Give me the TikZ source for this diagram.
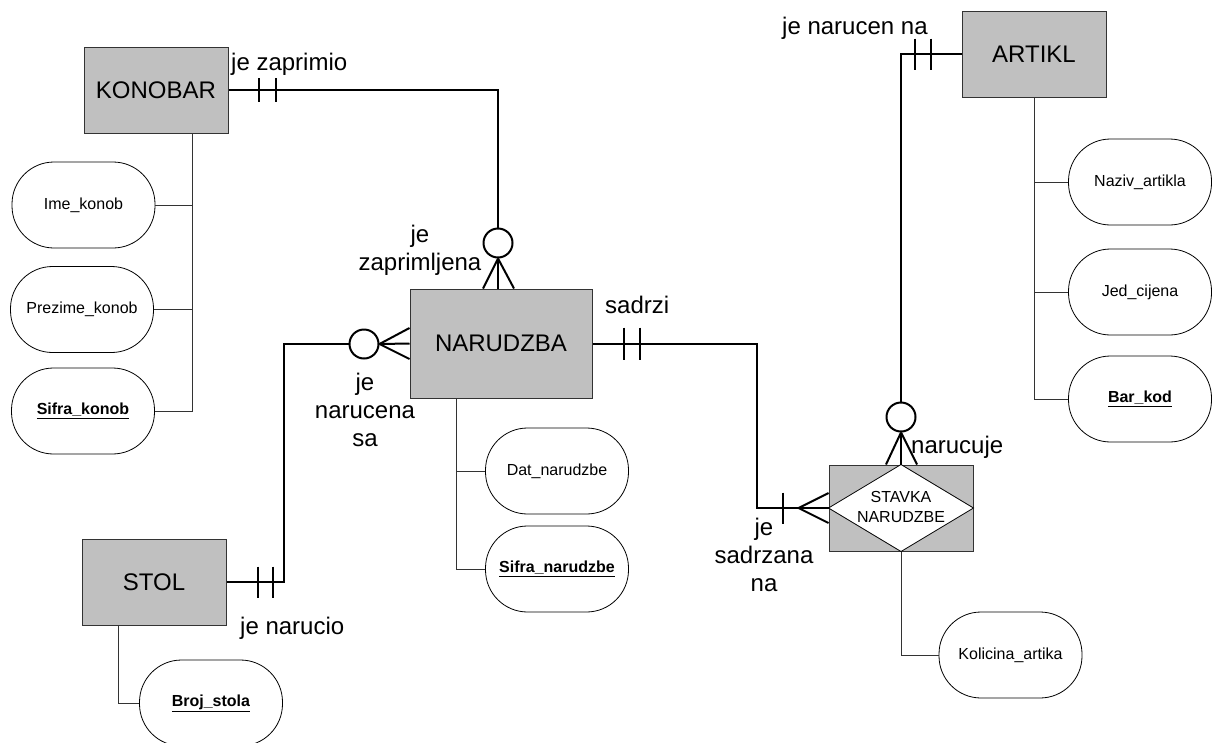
\documentclass[tikz,border=0pt]{standalone}
\usepackage{fontspec}
\setmainfont{Liberation Sans}
\definecolor{cgray}{HTML}{C0C0C0}
\definecolor{cdark}{HTML}{333333}
\tikzset{
  entity/.style={draw=cdark, line width=1pt, fill=cgray, minimum width=144pt, minimum height=86pt, inner sep=0pt, font=\fontsize{24}{28}\selectfont},
  attrib/.style={draw, line width=0.8pt, rounded corners=42pt, fill=white, minimum width=143pt, minimum height=86pt, inner sep=0pt, font=\fontsize{16}{20}\selectfont},
  rel/.style={line width=2pt},
  attline/.style={cdark, line width=1pt},
  optc/.style={circle, draw, line width=2pt, fill=white, minimum size=29pt, inner sep=0pt},
  lbl/.style={inner sep=0pt, align=center, font=\fontsize{24}{28}\selectfont},
}

\begin{document}
\begin{tikzpicture}[x=1pt, y=-1pt]
\useasboundingbox (0,0) rectangle (1212,742);

% entities
\node[entity] (konobar) at (156,90) {KONOBAR};
\node[entity, minimum width=182pt, minimum height=109pt] (narudzba) at (501,343.5) {NARUDZBA};
\node[entity] (stol) at (154,582) {STOL};
\node[entity] (artikl) at (1034,54) {ARTIKL};
\node[entity] (stavka) at (901,508) {};
\draw[line width=0.8pt, fill=white] (stavka.west) -- (stavka.north) -- (stavka.east) -- (stavka.south) -- cycle;
\node[align=center, inner sep=0pt, font=\fontsize{16}{20}\selectfont] (stavkatxt) at (901,507) {STAVKA\\NARUDZBE};

% attributes
\node[attrib] (ime) at (83.5,205) {Ime\_konob};
\node[attrib] (prezime) at (82,309.5) {Prezime\_konob};
\node[attrib] (sifrak) at (83,411) {\underline{\textbf{Sifra\_konob}}};
\node[attrib] (dat) at (557,471) {Dat\_narudzbe};
\node[attrib] (sifran) at (557,569) {\underline{\textbf{Sifra\_narudzbe}}};
\node[attrib] (broj) at (211,703) {\underline{\textbf{Broj\_stola}}};
\node[attrib] (kolicina) at (1010.5,655) {Kolicina\_artika};
\node[attrib] (naziv) at (1140,182) {Naziv\_artikla};
\node[attrib] (jed) at (1140,292) {Jed\_cijena};
\node[attrib] (barkod) at (1140,399) {\underline{\textbf{Bar\_kod}}};

% attribute lines
\coordinate (kb) at ([xshift=36pt]konobar.south);
\draw[attline] (kb) |- (sifrak.east);
\draw[attline] (ime.east) -- (ime.east -| kb);
\draw[attline] (prezime.east) -- (prezime.east -| kb);
\coordinate (nb) at ([xshift=-45pt]narudzba.south);
\draw[attline] (nb) |- (sifran.west);
\draw[attline] (dat.west) -- (dat.west -| nb);
\coordinate (sb) at ([xshift=-36pt]stol.south);
\draw[attline] (sb) |- (broj.west);
\draw[attline] (stavka.south) |- (kolicina.west);
\draw[attline] (artikl.south) |- (barkod.west);
\draw[attline] (naziv.west) -- (naziv.west -| artikl.south);
\draw[attline] (jed.west) -- (jed.west -| artikl.south);

% optional circles
\node[optc] (c1) at (498,243) {};
\node[optc] (c2) at (364,344) {};
\node[optc] (c3) at (901,417) {};
\coordinate (sft) at ([xshift=-30pt]stavka.west);

% konobar - narudzba
\draw[rel] (konobar.east) -| (c1.north);
\foreach \t in {30,47} \draw[rel] ([shift={(\t,-12)}]konobar.east) -- ++(0,24);
\foreach \d in {-15,0,16} \draw[rel] (c1.south) -- ([xshift=\d pt]c1.south |- narudzba.north);

% stol - narudzba
\draw[rel] (c2.west) -- ++(-65,0) |- (stol.east);
\foreach \t in {31,46} \draw[rel] ([shift={(\t,-15.5)}]stol.east) -- ++(0,31);
\foreach \d in {-15.5,0,15.5} \draw[rel] (c2.east) -- ([yshift=\d pt]narudzba.west);

% narudzba - stavka
\draw[rel] (narudzba.east) -- ++(164,0) |- (sft);
\foreach \t in {31,47} \draw[rel] ([shift={(\t,-16)}]narudzba.east) -- ++(0,32);
\draw[rel] ([shift={(-46,-15.5)}]stavka.west) -- ++(0,31);
\foreach \d in {-15,0,15} \draw[rel] (sft) -- ([yshift=\d pt]stavka.west);

% artikl - stavka
\draw[rel] (artikl.west) -| (c3.north);
\foreach \t in {-47,-31} \draw[rel] ([shift={(\t,-15.5)}]artikl.west) -- ++(0,31);
\foreach \d in {-15,0,16} \draw[rel] (c3.south) -- ([xshift=\d pt]stavka.north);

% labels
\node[lbl, anchor=west] (lzaprimio) at (231,64) {je zaprimio};
\node[lbl] (lzaprimljena) at (420,250) {je\\zaprimljena};
\node[lbl] (lnarucena) at (365,410) {je\\narucena\\sa};
\node[lbl, anchor=west] (lnarucio) at (240,628) {je narucio};
\node[lbl, anchor=west] (lsadrzi) at (605,305) {sadrzi};
\node[lbl] (lsadrzana) at (764,555) {je\\sadrzana\\na};
\node[lbl, anchor=west] (lnarucuje) at (911,447) {narucuje};
\node[lbl, anchor=west] (lnarucen) at (782,28) {je narucen na};

\end{tikzpicture}
\end{document}
